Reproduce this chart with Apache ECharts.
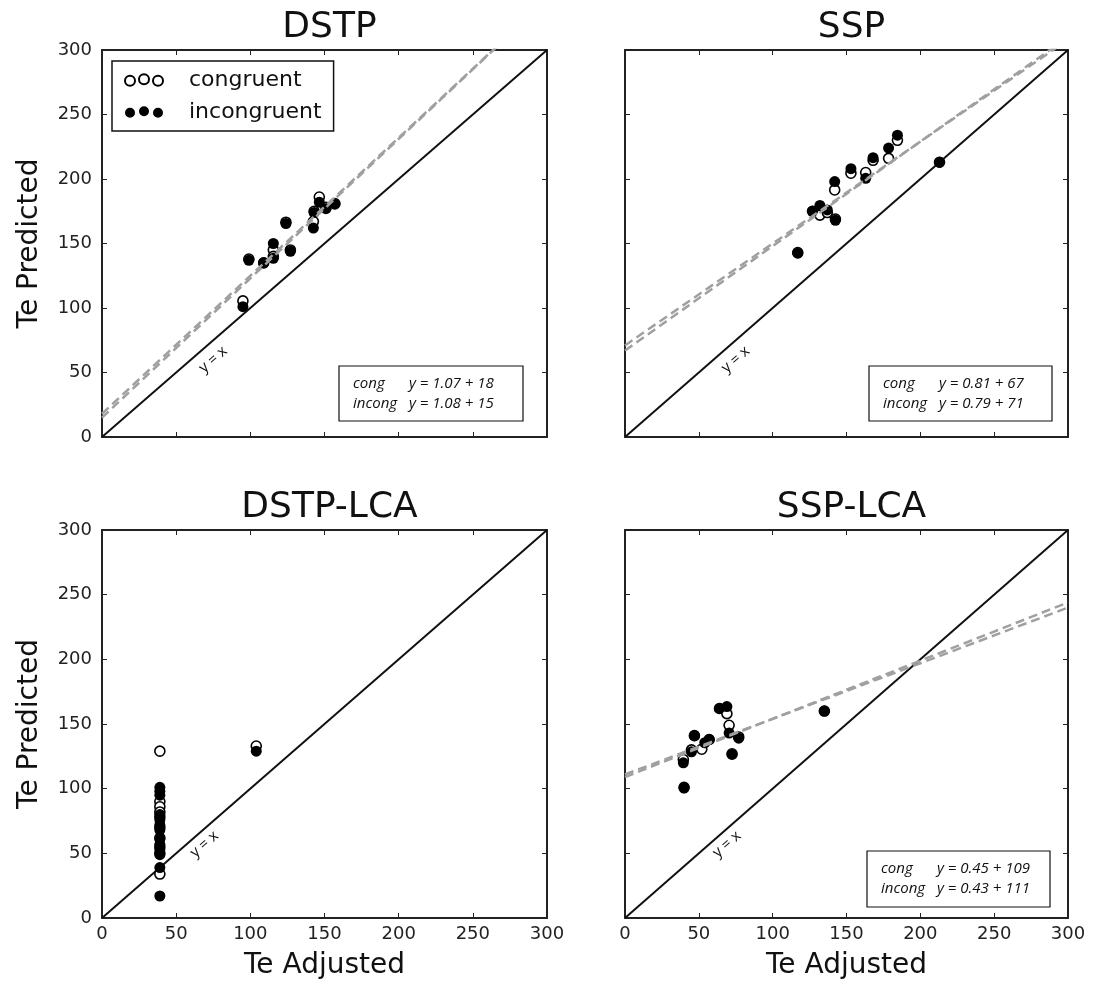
<!DOCTYPE html>
<html>
<head>
<meta charset="utf-8">
<script src="https://cdn.jsdelivr.net/npm/echarts@6/dist/echarts.min.js"></script>
<style>
  html, body { margin: 0; padding: 0; background: #fff; }
  #chart { width: 1093px; height: 988px; }
</style>
</head>
<body>
<div id="chart"></div>
<script>
// panel titles
const panelNames = ["DSTP", "SSP", "DSTP-LCA", "SSP-LCA"];

// [Te Adjusted, Te Predicted]
const dstpCong = [[95, 105.5], [99, 138], [109, 135], [115.5, 145], [115.5, 140], [124, 166.5], [127, 145], [142.5, 167], [143, 175], [146.5, 186], [151, 178], [157, 181]];
const dstpIncong = [[95, 101], [99, 137], [109, 135], [115.5, 150], [115.5, 138.5], [124, 165.5], [127, 144], [142.5, 162], [143, 174], [146.5, 182], [151, 177], [157, 180.5]];

const sspCong = [[117, 143], [127, 175], [132, 172], [137, 174], [142.5, 169], [142, 191.5], [153, 204.5], [163, 205], [168, 214.5], [178.5, 216], [184.5, 230], [213, 213]];
const sspIncong = [[117, 142.5], [127, 175], [132, 179.5], [137, 176], [142.5, 168], [142, 198], [153, 208], [163, 200.5], [168, 216.5], [178.5, 224], [184.5, 234], [213, 213]];

const dstpLcaCong = [[39, 129], [39, 90], [39, 86], [39, 82], [39, 78], [39, 70], [39, 62], [39, 55], [39, 50], [39, 34], [104, 133]];
const dstpLcaIncong = [[39, 101], [39, 98], [39, 95], [39, 80], [39, 76], [39, 72], [39, 68], [39, 61], [39, 57], [39, 53], [39, 49], [39, 39], [39, 17], [104, 129]];

const sspLcaCong = [[39.5, 122.5], [40, 101], [45, 130], [47, 141], [52, 130.5], [57, 138], [64, 162], [69, 158], [70.5, 149], [72.5, 127], [77, 140], [135, 160]];
const sspLcaIncong = [[39.5, 120], [40, 100.5], [45, 128.5], [47, 141], [54, 135.5], [57, 138], [64, 162], [69, 163.5], [70.5, 143], [72.5, 126.5], [77, 139], [135, 160]];

// regression fits as printed in the boxes (null = no fit shown)
const slopeCong = [1.07, 0.81, null, 0.45];
const interCong = [18, 67, null, 109];
const slopeIncong = [1.08, 0.79, null, 0.43];
const interIncong = [15, 71, null, 111];

const congData = [dstpCong, sspCong, dstpLcaCong, sspLcaCong];
const incongData = [dstpIncong, sspIncong, dstpLcaIncong, sspLcaIncong];

const FONT = "DejaVu Sans";
const AX_MIN = 0, AX_MAX = 300, AX_STEP = 50;

const grids = [
  { left: 102, top: 50, width: 445, height: 387 },
  { left: 625, top: 50, width: 443, height: 387 },
  { left: 102, top: 530, width: 445, height: 388 },
  { left: 625, top: 530, width: 443, height: 388 },
];

// equation boxes (pixel placement)
const eqBoxes = [
  { x: 339, y: 366, w: 184, h: 55 },
  { x: 869, y: 366, w: 183, h: 55 },
  null,
  { x: 867, y: 851, w: 183, h: 56 },
];

function makeAxis(i, pos, showLabel, name) {
  const ax = {
    type: "value",
    gridIndex: i,
    position: pos,
    min: AX_MIN,
    max: AX_MAX,
    interval: AX_STEP,
    axisLine: { show: true, onZero: false, lineStyle: { color: "#222", width: 2 } },
    axisTick: { show: true, inside: true, length: 5, lineStyle: { color: "#222", width: 1 } },
    axisLabel: { show: showLabel, fontFamily: FONT, fontSize: 18, color: "#222", margin: pos === "left" ? 10 : 7 },
    splitLine: { show: false },
  };
  if (name) {
    ax.name = name;
    ax.nameLocation = "middle";
    ax.nameGap = pos === "left" ? 58 : 34;
    ax.nameTextStyle = { fontFamily: FONT, fontSize: 28, color: "#111" };
  }
  return ax;
}

const xAxes = [], yAxes = [], series = [], titles = [], graphics = [];

panelNames.forEach((title, i) => {
  const bottomRow = i >= 2;
  const leftCol = i % 2 === 0;
  xAxes.push(makeAxis(i, "bottom", bottomRow, bottomRow ? "Te Adjusted" : null));
  xAxes.push(makeAxis(i, "top", false, null));
  yAxes.push(makeAxis(i, "left", leftCol, leftCol ? "Te Predicted" : null));
  yAxes.push(makeAxis(i, "right", false, null));

  const g = grids[i];
  titles.push({
    text: title,
    left: g.left + g.width / 2,
    top: g.top - 45,
    textAlign: "center",
    textStyle: { fontFamily: FONT, fontSize: 36, fontWeight: "normal", color: "#111" },
  });

  const xi = i * 2, yi = i * 2;

  // identity line
  series.push({
    type: "line",
    xAxisIndex: xi,
    yAxisIndex: yi,
    data: [[AX_MIN, AX_MIN], [AX_MAX, AX_MAX]],
    symbol: "none",
    silent: true,
    lineStyle: { color: "#111", width: 2 },
    z: 2,
  });

  series.push({
    name: "congruent",
    type: "scatter",
    xAxisIndex: xi,
    yAxisIndex: yi,
    data: congData[i],
    symbolSize: 10,
    itemStyle: { color: "#fff", borderColor: "#000", borderWidth: 1.6, opacity: 1 },
    z: 3,
  });
  series.push({
    name: "incongruent",
    type: "scatter",
    xAxisIndex: xi,
    yAxisIndex: yi,
    data: incongData[i],
    symbolSize: 11,
    itemStyle: { color: "#000", opacity: 1 },
    z: 4,
  });

  // fitted lines
  [[slopeCong[i], interCong[i]], [slopeIncong[i], interIncong[i]]].forEach(([a, b]) => {
    if (a === null) return;
    series.push({
      type: "line",
      xAxisIndex: xi,
      yAxisIndex: yi,
      data: [[AX_MIN, b], [AX_MAX, a * AX_MAX + b]],
      symbol: "none",
      silent: true,
      clip: true,
      lineStyle: { color: "#a0a0a0", width: 2.5, type: [9, 5] },
      z: 5,
    });
  });

  // "y = x" note along the diagonal
  series.push({
    type: "scatter",
    xAxisIndex: xi,
    yAxisIndex: yi,
    data: [[bottomRow ? 69 : 75, bottomRow ? 57 : 60]],
    symbolSize: 1,
    itemStyle: { color: "#fff", opacity: 0 },
    silent: true,
    label: {
      show: true,
      position: "inside",
      formatter: "y = x",
      rotate: 41,
      fontFamily: "Open Sans",
      fontSize: 15,
      color: "#111",
      opacity: 1,
    },
    z: 6,
  });

  const box = eqBoxes[i];
  if (box) {
    graphics.push({
      type: "rect",
      shape: { x: box.x, y: box.y, width: box.w, height: box.h },
      style: { fill: "#fff", stroke: "#111", lineWidth: 1.2 },
      z: 10,
    });
    const rows = [
      ["cong", slopeCong[i], interCong[i]],
      ["incong", slopeIncong[i], interIncong[i]],
    ];
    rows.forEach(([lab, a, b], r) => {
      const ty = box.y + 18 + r * 20;
      graphics.push({
        type: "text",
        x: box.x + 14,
        y: ty,
        style: { text: lab, font: "italic 15px 'Open Sans'", fill: "#111", verticalAlign: "middle" },
        z: 11,
      });
      graphics.push({
        type: "text",
        x: box.x + 70,
        y: ty,
        style: { text: "y = " + a.toFixed(2) + " + " + b, font: "italic 15px 'Open Sans'", fill: "#111", verticalAlign: "middle" },
        z: 11,
      });
    });
  }
});

const dots = "path://M0,6.5a5,5 0 1,0 10,0a5,5 0 1,0 -10,0Z M14,5a5,5 0 1,0 10,0a5,5 0 1,0 -10,0Z M28,6.5a5,5 0 1,0 10,0a5,5 0 1,0 -10,0Z";

const option = {
  animation: false,
  backgroundColor: "#fff",
  title: titles,
  grid: grids.map((g) => Object.assign({ containLabel: false, show: false }, g)),
  xAxis: xAxes,
  yAxis: yAxes,
  legend: {
    orient: "vertical",
    left: 112,
    top: 61,
    padding: [8, 12, 8, 12],
    borderColor: "#111",
    borderWidth: 1.5,
    backgroundColor: "#fff",
    itemWidth: 38,
    itemHeight: 11.5,
    itemGap: 10,
    selectedMode: false,
    textStyle: { fontFamily: FONT, fontSize: 22, color: "#111" },
    formatter: (n) => "   " + n,
    data: [
      { name: "congruent", icon: dots },
      { name: "incongruent", icon: dots },
    ],
  },
  graphic: graphics,
  series: series,
};

const myChart = echarts.init(document.getElementById("chart"));
myChart.setOption(option);
window.addEventListener("resize", () => {
  myChart.resize();
});
</script>
</body>
</html>
